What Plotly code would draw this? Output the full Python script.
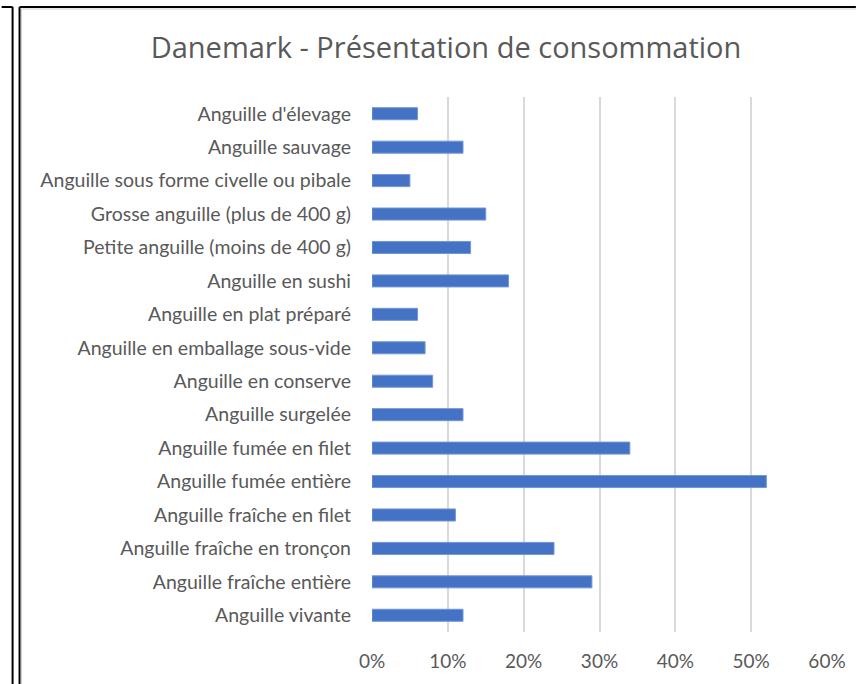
import plotly.graph_objects as go

# categories as listed top to bottom on the chart
categories = [
    "Anguille d'élevage",
    "Anguille sauvage",
    "Anguille sous forme civelle ou pibale",
    "Grosse anguille (plus de 400 g)",
    "Petite anguille (moins de 400 g)",
    "Anguille en sushi",
    "Anguille en plat préparé",
    "Anguille en emballage sous-vide",
    "Anguille en conserve",
    "Anguille surgelée",
    "Anguille fumée en filet",
    "Anguille fumée entière",
    "Anguille fraîche en filet",
    "Anguille fraîche en tronçon",
    "Anguille fraîche entière",
    "Anguille vivante",
]
shares = [0.06, 0.12, 0.05, 0.15, 0.13, 0.18, 0.06, 0.07, 0.08, 0.12,
          0.34, 0.52, 0.11, 0.24, 0.29, 0.12]
x_ticks = [0, 0.1, 0.2, 0.3, 0.4, 0.5, 0.6]

W, H = 858, 684
L, R, T, B = 372, 29, 97, 52
pw, ph = W - L - R, H - T - B


def px(x):
    return (x - L) / pw


def py(y):
    return (H - B - y) / ph


grey = "#595959"

fig = go.Figure()
fig.add_trace(go.Bar(
    x=shares,
    y=categories,
    orientation="h",
    marker=dict(color="#4472C4", line=dict(color="#7396D6", width=1)),
    hoverinfo="x+y",
))

# frame lines around the chart (screenshot border)
frame = [
    (0, 7, 11, 7), (11, 7, 11, H),
    (18, 7, W, 7), (18, 7, 18, H),
]
shapes = []
for x0, y0, x1, y1 in frame:
    shapes.append(dict(type="line", xref="paper", yref="paper",
                       x0=px(x0), y0=py(y0), x1=px(x1), y1=py(y1),
                       line=dict(color="black", width=2)))
shapes.append(dict(type="line", xref="paper", yref="paper",
                   x0=px(20), y0=py(9), x1=px(20), y1=py(H),
                   line=dict(color="#d0d0d0", width=1)))
shapes.append(dict(type="line", xref="paper", yref="paper",
                   x0=px(20), y0=py(9), x1=px(W), y1=py(9),
                   line=dict(color="#d0d0d0", width=1)))

fig.update_layout(
    width=W, height=H,
    margin=dict(l=L, r=R, t=T, b=B),
    paper_bgcolor="white", plot_bgcolor="white",
    font=dict(family="Lato", color=grey, size=19.5),
    title=dict(text="Danemark - Présentation de consommation",
               xref="container", x=446 / W, xanchor="center",
               yref="container", y=1 - 48 / H, yanchor="middle",
               font=dict(family="Open Sans", size=29, color=grey)),
    bargap=0.64,
    showlegend=False,
    shapes=shapes,
)
fig.update_xaxes(
    range=[0, 0.6], tickvals=x_ticks, tickformat=".0%",
    showgrid=True, gridcolor="#D9D9D9", gridwidth=2,
    zeroline=False, showline=False, ticks="",
    tickfont=dict(size=19, color=grey), ticklabelstandoff=16,
)
fig.update_yaxes(
    autorange="reversed", showgrid=False, zeroline=False, showline=False,
    ticks="", tickfont=dict(size=19.5, color=grey), ticklabelstandoff=20,
)

fig.write_html("out.html", config={"displayModeBar": False},
               post_script="document.body.style.margin='0px';")
